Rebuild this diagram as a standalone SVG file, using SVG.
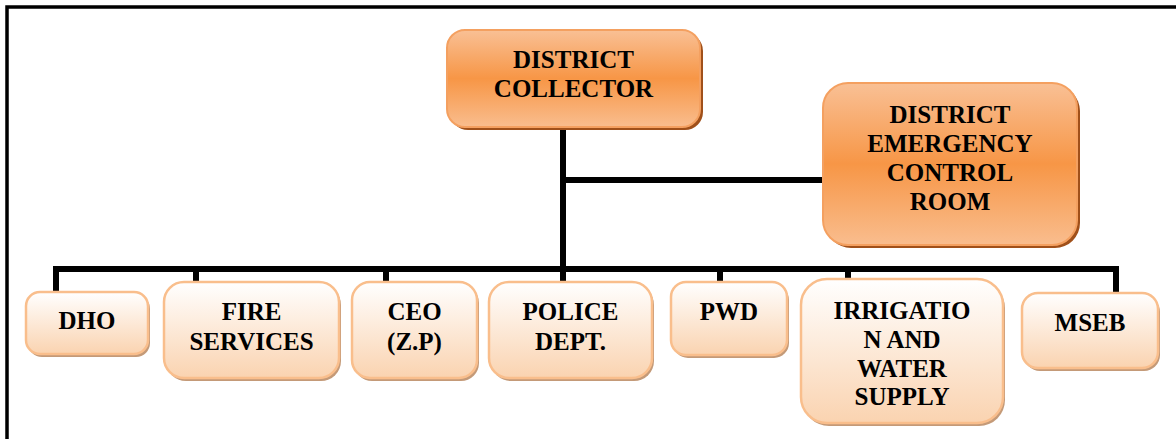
<svg xmlns="http://www.w3.org/2000/svg" width="1176" height="439" viewBox="0 0 1176 439">
<style>
.t{font-family:"Liberation Serif","Times New Roman",serif;font-weight:bold;font-size:25px;fill:#000;text-anchor:middle}
.top{fill:url(#gTop);stroke:#F4A060;stroke-width:2}
.topS{fill:#A0501A}
.low{fill:url(#gLow);stroke:#F9BE8C;stroke-width:2.5}
.lowS{fill:#C49A78}
.ln{stroke:#000;stroke-width:6;fill:none}
.fr{stroke:#000;stroke-width:3.5;fill:none}
</style>
<defs>
<linearGradient id="gTop" x1="0" y1="0" x2="0" y2="1">
<stop offset="0" stop-color="#F9C095"/>
<stop offset="0.5" stop-color="#F79646"/>
<stop offset="1" stop-color="#F9BD8E"/>
</linearGradient>
<linearGradient id="gLow" x1="0" y1="0" x2="0" y2="1">
<stop offset="0" stop-color="#FFFFFF"/>
<stop offset="1" stop-color="#FAD3B0"/>
</linearGradient>
</defs>
<rect width="1176" height="439" fill="#fff"/>
<path class="fr" d="M7,439 V7 H1176"/>
<g id="connectors">
<path class="ln" d="M563,127 V282"/>
<path class="ln" d="M563,180 H824"/>
<path class="ln" d="M56,293 V269 H1116 V294"/>
<path class="ln" d="M196,269 V283"/>
<path class="ln" d="M386,269 V283"/>
<path class="ln" d="M720,269 V283"/>
<path class="ln" d="M848,269 V280"/>
</g>
<g id="district-collector">
<rect class="topS" x="450" y="33" width="253" height="97" rx="18"/>
<rect class="top" x="447" y="30" width="253" height="97" rx="18"/>
<text class="t" x="573.5" y="68">DISTRICT</text>
<text class="t" x="573.5" y="97">COLLECTOR</text>
</g>
<g id="emergency-control-room">
<rect class="topS" x="826" y="86" width="254" height="162" rx="25"/>
<rect class="top" x="823" y="83" width="254" height="162" rx="25"/>
<text class="t" x="950" y="123">DISTRICT</text>
<text class="t" x="950" y="152">EMERGENCY</text>
<text class="t" x="950" y="181">CONTROL</text>
<text class="t" x="950" y="210">ROOM</text>
</g>
<g id="dho">
<rect class="lowS" x="28" y="295" width="122" height="62" rx="14"/>
<rect class="low" x="26" y="292" width="122" height="62" rx="14"/>
<text class="t" x="87" y="329">DHO</text>
</g>
<g id="fire-services">
<rect class="lowS" x="166" y="285" width="175" height="96" rx="20"/>
<rect class="low" x="164" y="282" width="175" height="96" rx="20"/>
<text class="t" x="251.5" y="320">FIRE</text>
<text class="t" x="251.5" y="350">SERVICES</text>
</g>
<g id="ceo">
<rect class="lowS" x="354" y="285" width="125" height="96" rx="18"/>
<rect class="low" x="352" y="282" width="125" height="96" rx="18"/>
<text class="t" x="414.5" y="320">CEO</text>
<text class="t" x="414.5" y="350">(Z.P)</text>
</g>
<g id="police-dept">
<rect class="lowS" x="491" y="285" width="163" height="96" rx="20"/>
<rect class="low" x="489" y="282" width="163" height="96" rx="20"/>
<text class="t" x="570.5" y="320">POLICE</text>
<text class="t" x="570.5" y="350">DEPT.</text>
</g>
<g id="pwd">
<rect class="lowS" x="673" y="285" width="116" height="73" rx="15"/>
<rect class="low" x="671" y="282" width="116" height="73" rx="15"/>
<text class="t" x="729" y="320">PWD</text>
</g>
<g id="irrigation">
<rect class="lowS" x="803" y="282" width="202" height="144" rx="26"/>
<rect class="low" x="801" y="279" width="202" height="144" rx="26"/>
<text class="t" x="902" y="319">IRRIGATIO</text>
<text class="t" x="902" y="348">N AND</text>
<text class="t" x="902" y="377">WATER</text>
<text class="t" x="902" y="405">SUPPLY</text>
</g>
<g id="mseb">
<rect class="lowS" x="1024" y="296" width="136" height="75" rx="16"/>
<rect class="low" x="1022" y="293" width="136" height="75" rx="16"/>
<text class="t" x="1090" y="331">MSEB</text>
</g>
</svg>
